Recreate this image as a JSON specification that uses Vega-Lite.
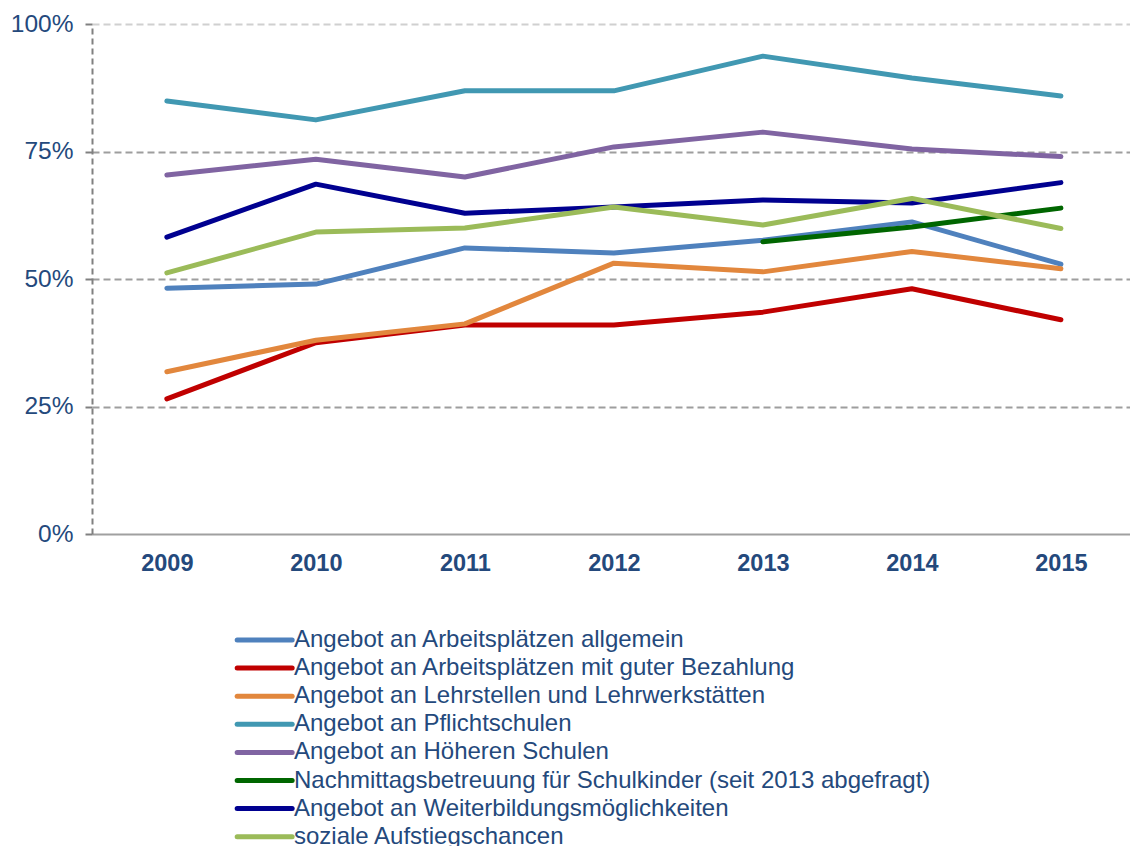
{
  "$schema": "https://vega.github.io/schema/vega-lite/v6.json",
  "width": 1038,
  "height": 510,
  "autosize": {"type": "none"},
  "padding": {"left": 92, "top": 24, "right": 0, "bottom": 312},
  "background": "white",
  "config": {
    "view": {"stroke": null},
    "font": "Liberation Sans"
  },
  "data": {
    "values": [
      {"s": "Angebot an Arbeitsplätzen allgemein", "year": "2009", "v": 0.482},
      {"s": "Angebot an Arbeitsplätzen allgemein", "year": "2010", "v": 0.490},
      {"s": "Angebot an Arbeitsplätzen allgemein", "year": "2011", "v": 0.561},
      {"s": "Angebot an Arbeitsplätzen allgemein", "year": "2012", "v": 0.551},
      {"s": "Angebot an Arbeitsplätzen allgemein", "year": "2013", "v": 0.576},
      {"s": "Angebot an Arbeitsplätzen allgemein", "year": "2014", "v": 0.612},
      {"s": "Angebot an Arbeitsplätzen allgemein", "year": "2015", "v": 0.529},
      {"s": "Angebot an Arbeitsplätzen mit guter Bezahlung", "year": "2009", "v": 0.265},
      {"s": "Angebot an Arbeitsplätzen mit guter Bezahlung", "year": "2010", "v": 0.375},
      {"s": "Angebot an Arbeitsplätzen mit guter Bezahlung", "year": "2011", "v": 0.410},
      {"s": "Angebot an Arbeitsplätzen mit guter Bezahlung", "year": "2012", "v": 0.410},
      {"s": "Angebot an Arbeitsplätzen mit guter Bezahlung", "year": "2013", "v": 0.435},
      {"s": "Angebot an Arbeitsplätzen mit guter Bezahlung", "year": "2014", "v": 0.481},
      {"s": "Angebot an Arbeitsplätzen mit guter Bezahlung", "year": "2015", "v": 0.420},
      {"s": "Angebot an Lehrstellen und Lehrwerkstätten", "year": "2009", "v": 0.318},
      {"s": "Angebot an Lehrstellen und Lehrwerkstätten", "year": "2010", "v": 0.380},
      {"s": "Angebot an Lehrstellen und Lehrwerkstätten", "year": "2011", "v": 0.412},
      {"s": "Angebot an Lehrstellen und Lehrwerkstätten", "year": "2012", "v": 0.531},
      {"s": "Angebot an Lehrstellen und Lehrwerkstätten", "year": "2013", "v": 0.514},
      {"s": "Angebot an Lehrstellen und Lehrwerkstätten", "year": "2014", "v": 0.554},
      {"s": "Angebot an Lehrstellen und Lehrwerkstätten", "year": "2015", "v": 0.520},
      {"s": "Angebot an Pflichtschulen", "year": "2009", "v": 0.849},
      {"s": "Angebot an Pflichtschulen", "year": "2010", "v": 0.812},
      {"s": "Angebot an Pflichtschulen", "year": "2011", "v": 0.869},
      {"s": "Angebot an Pflichtschulen", "year": "2012", "v": 0.869},
      {"s": "Angebot an Pflichtschulen", "year": "2013", "v": 0.937},
      {"s": "Angebot an Pflichtschulen", "year": "2014", "v": 0.894},
      {"s": "Angebot an Pflichtschulen", "year": "2015", "v": 0.859},
      {"s": "Angebot an Höheren Schulen", "year": "2009", "v": 0.704},
      {"s": "Angebot an Höheren Schulen", "year": "2010", "v": 0.735},
      {"s": "Angebot an Höheren Schulen", "year": "2011", "v": 0.700},
      {"s": "Angebot an Höheren Schulen", "year": "2012", "v": 0.759},
      {"s": "Angebot an Höheren Schulen", "year": "2013", "v": 0.788},
      {"s": "Angebot an Höheren Schulen", "year": "2014", "v": 0.755},
      {"s": "Angebot an Höheren Schulen", "year": "2015", "v": 0.740},
      {"s": "Nachmittagsbetreuung für Schulkinder (seit 2013 abgefragt)", "year": "2013", "v": 0.573},
      {"s": "Nachmittagsbetreuung für Schulkinder (seit 2013 abgefragt)", "year": "2014", "v": 0.602},
      {"s": "Nachmittagsbetreuung für Schulkinder (seit 2013 abgefragt)", "year": "2015", "v": 0.639},
      {"s": "Angebot an Weiterbildungsmöglichkeiten", "year": "2009", "v": 0.582},
      {"s": "Angebot an Weiterbildungsmöglichkeiten", "year": "2010", "v": 0.686},
      {"s": "Angebot an Weiterbildungsmöglichkeiten", "year": "2011", "v": 0.629},
      {"s": "Angebot an Weiterbildungsmöglichkeiten", "year": "2012", "v": 0.641},
      {"s": "Angebot an Weiterbildungsmöglichkeiten", "year": "2013", "v": 0.655},
      {"s": "Angebot an Weiterbildungsmöglichkeiten", "year": "2014", "v": 0.649},
      {"s": "Angebot an Weiterbildungsmöglichkeiten", "year": "2015", "v": 0.689},
      {"s": "soziale Aufstiegschancen", "year": "2009", "v": 0.512},
      {"s": "soziale Aufstiegschancen", "year": "2010", "v": 0.592},
      {"s": "soziale Aufstiegschancen", "year": "2011", "v": 0.600},
      {"s": "soziale Aufstiegschancen", "year": "2012", "v": 0.641},
      {"s": "soziale Aufstiegschancen", "year": "2013", "v": 0.606},
      {"s": "soziale Aufstiegschancen", "year": "2014", "v": 0.658},
      {"s": "soziale Aufstiegschancen", "year": "2015", "v": 0.599}
    ]
  },
  "mark": {"type": "line", "strokeWidth": 5, "strokeCap": "round", "strokeJoin": "round"},
  "encoding": {
    "x": {
      "field": "year",
      "type": "ordinal",
      "sort": null,
      "scale": {"type": "point", "padding": 0.483, "align": 0.52},
      "axis": {
        "title": null,
        "labelAngle": 0,
        "ticks": false,
        "grid": false,
        "domainColor": "#A0A0A0",
        "domainWidth": 2,
        "labelFont": "Liberation Sans",
        "labelFontSize": 23.5,
        "labelFontWeight": "bold",
        "labelColor": "#24497C",
        "labelPadding": 17
      }
    },
    "y": {
      "field": "v",
      "type": "quantitative",
      "scale": {"domain": [0, 1], "nice": false},
      "axis": {
        "title": null,
        "values": [0, 0.25, 0.5, 0.75, 1],
        "format": ".0%",
        "labelFont": "Liberation Sans",
        "labelFontSize": 24.5,
        "labelColor": "#24497C",
        "labelPadding": 12,
        "tickSize": 7,
        "tickColor": "#808080",
        "tickWidth": 2,
        "domainColor": "#808080",
        "domainWidth": 2,
        "domainDash": [6, 4],
        "grid": true,
        "gridDash": [7, 4],
        "gridWidth": 2,
        "gridColor": {"condition": {"test": "datum.value === 1", "value": "#D0D0D0"}, "value": "#9E9E9E"},
        "gridOpacity": {"condition": {"test": "datum.value === 0", "value": 0}, "value": 1}
      }
    },
    "color": {
      "field": "s",
      "type": "nominal",
      "sort": null,
      "scale": {
        "domain": [
          "Angebot an Arbeitsplätzen allgemein",
          "Angebot an Arbeitsplätzen mit guter Bezahlung",
          "Angebot an Lehrstellen und Lehrwerkstätten",
          "Angebot an Pflichtschulen",
          "Angebot an Höheren Schulen",
          "Nachmittagsbetreuung für Schulkinder (seit 2013 abgefragt)",
          "Angebot an Weiterbildungsmöglichkeiten",
          "soziale Aufstiegschancen"
        ],
        "range": ["#4F81BD", "#C00000", "#E2873D", "#4198B2", "#8064A2", "#006600", "#000090", "#9BBB59"]
      },
      "legend": {
        "title": null,
        "orient": "none",
        "legendX": 179,
        "legendY": 604,
        "padding": 0,
        "symbolType": "M-5,0H1",
        "symbolSize": 336,
        "symbolStrokeWidth": 5,
        "labelOffset": -1,
        "labelFont": "Liberation Sans",
        "labelFontSize": 24,
        "labelColor": "#24497C",
        "labelLimit": 1000,
        "rowPadding": 4.1,
        "encode": {"symbols": {"update": {"strokeCap": {"value": "round"}}}}
      }
    }
  }
}
